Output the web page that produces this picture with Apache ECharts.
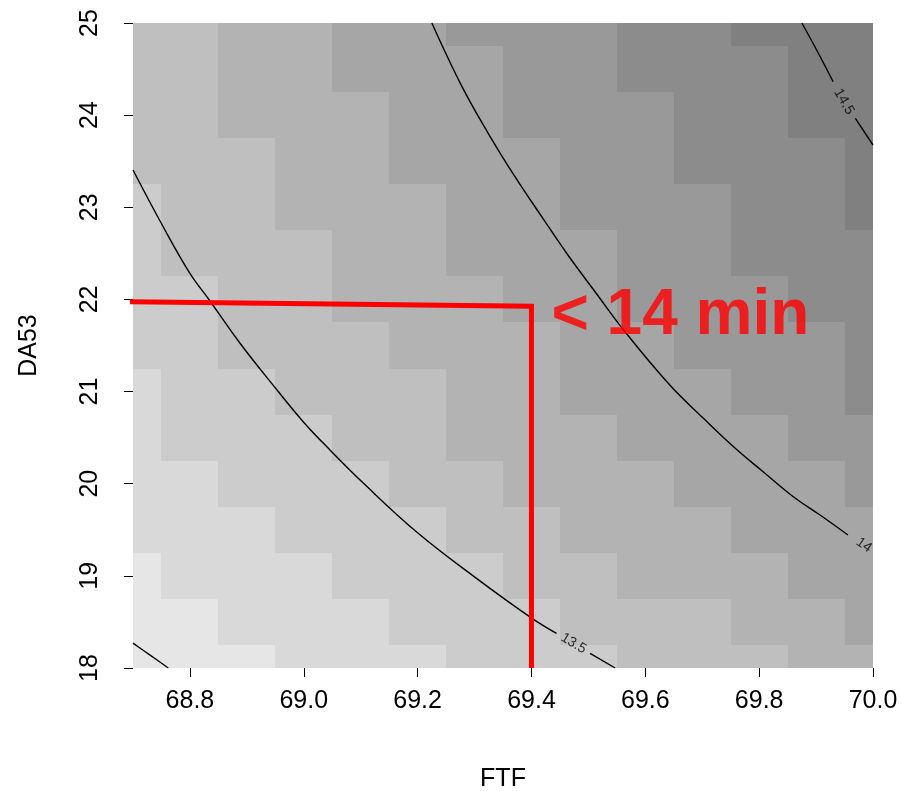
<!DOCTYPE html>
<html><head><meta charset="utf-8">
<script src="https://cdn.jsdelivr.net/npm/echarts@6/dist/echarts.min.js"></script>
<style>html,body{margin:0;padding:0;background:#fff}#c{width:902px;height:791px}</style>
</head><body><div id="c"></div>
<script>
// FTF values (x centres of the cells) and DA53 values (y centres, top row first)
const ftf = [68.7, 68.8, 68.9, 69.0, 69.1, 69.2, 69.3, 69.4, 69.5, 69.6, 69.7, 69.8, 69.9, 70.0];
const da53 = [25, 24.5, 24, 23.5, 23, 22.5, 22, 21.5, 21, 20.5, 20, 19.5, 19, 18.5, 18];
// shade level of each cell (0 = lightest), rows follow da53, columns follow ftf
const shadeRows = [
  [3,3,4,4,5,5,6,6,6,7,7,8,8,8],
  [3,3,4,4,5,5,5,6,6,7,7,7,8,8],
  [3,3,4,4,4,5,5,6,6,6,7,7,8,8],
  [3,3,3,4,4,5,5,5,6,6,7,7,7,8],
  [2,3,3,4,4,4,5,5,6,6,6,7,7,8],
  [2,3,3,3,4,4,5,5,5,6,6,7,7,7],
  [2,2,3,3,4,4,4,5,5,6,6,6,7,7],
  [2,2,3,3,3,4,4,4,5,5,6,6,6,7],
  [1,2,2,3,3,3,4,4,5,5,5,6,6,7],
  [1,2,2,2,3,3,4,4,4,5,5,5,6,6],
  [1,1,2,2,2,3,3,4,4,4,5,5,5,6],
  [1,1,1,2,2,2,3,3,4,4,4,5,5,5],
  [0,1,1,1,2,2,2,3,3,4,4,4,5,5],
  [0,0,1,1,1,2,2,2,3,3,3,4,4,5],
  [0,0,0,1,1,1,2,2,2,3,3,3,4,4]
];
const xTicks = [68.8, 69.0, 69.2, 69.4, 69.6, 69.8, 70.0];
const yTicks = [18, 19, 20, 21, 22, 23, 24, 25];

// contour lines (FTF, DA53)
const contour13 = [[68.700, 18.27], [68.730, 18.14], [68.762, 18.00]];
const contour135a = [[68.700, 23.405], [68.753, 22.789], [68.800, 22.283], [68.834, 21.994], [68.888, 21.524],
  [68.953, 21.017], [68.999, 20.673], [69.046, 20.366], [69.105, 20.004], [69.201, 19.462],
  [69.301, 18.984], [69.401, 18.539], [69.444, 18.376]];
const contour135b = [[69.503, 18.159], [69.547, 18.00]];
const contour14 = [[69.225, 25.0], [69.278, 24.309], [69.324, 23.803], [69.371, 23.332], [69.418, 22.898],
  [69.464, 22.482], [69.512, 22.081], [69.566, 21.636], [69.643, 21.071], [69.702, 20.710],
  [69.755, 20.401], [69.807, 20.130], [69.860, 19.859], [69.907, 19.660], [69.956, 19.443]];
const contour145a = [[69.875, 25.0], [69.901, 24.707], [69.930, 24.363]];
const contour145b = [[69.969, 23.966], [70.0, 23.676]];
const contourLabels = [
  {text: '13.5', at: [69.474, 18.266], angle: -31},
  {text: '14', at: [69.984, 19.335], angle: -35},
  {text: '14.5', at: [69.949, 24.146], angle: -60}
];
// red annotation
const markerPath = [[68.6912, 21.975], [69.4, 21.925], [69.4, 18.0]];
const markerText = '< 14 min';

const grays = ['#e6e6e6','#d9d9d9','#cccccc','#bfbfbf','#b3b3b3','#a6a6a6','#999999','#8c8c8c','#808080'];

const cells = [];
da53.forEach((y, r) => ftf.forEach((x, c) => cells.push([x, y, shadeRows[r][c]])));
const halfW = (ftf[1] - ftf[0]) / 2;
const halfH = (da53[0] - da53[1]) / 2;

const chart = echarts.init(document.getElementById('c'), null, {renderer: 'canvas'});
const font = 'Liberation Sans, Arial, Helvetica, sans-serif';
function contourSeries(data) {
  return {type: 'line', data: data, showSymbol: false, symbol: 'none', silent: true, z: 3, smooth: 0.4,
    lineStyle: {color: '#000', width: 1.4}};
}
chart.setOption({
  animation: false,
  backgroundColor: '#fff',
  grid: {left: 133, top: 23, width: 740, height: 645, outerBoundsMode: 'none', containLabel: false},
  xAxis: {
    type: 'value', min: 68.7, max: 70.0,
    name: 'FTF', nameLocation: 'middle', nameGap: 99,
    nameTextStyle: {fontFamily: font, fontSize: 25, color: '#000'},
    axisLine: {show: false},
    axisTick: {show: true, length: 9, customValues: xTicks, lineStyle: {color: '#000', width: 1}},
    axisLabel: {customValues: xTicks, margin: 21, fontFamily: font, fontSize: 25, color: '#000',
      formatter: v => v.toFixed(1)},
    splitLine: {show: false}
  },
  yAxis: {
    type: 'value', min: 18, max: 25, interval: 1,
    name: 'DA53', nameLocation: 'middle', nameGap: 91, nameRotate: 90,
    nameTextStyle: {fontFamily: font, fontSize: 25, color: '#000'},
    axisLine: {show: false},
    axisTick: {show: true, length: 9, customValues: yTicks, lineStyle: {color: '#000', width: 1}},
    axisLabel: {customValues: yTicks, rotate: 90, margin: 30, fontFamily: font, fontSize: 25, color: '#000'},
    splitLine: {show: false}
  },
  series: [
    {
      type: 'custom', data: cells, z: 1, silent: true,
      renderItem: function (params, api) {
        const x = api.value(0), y = api.value(1);
        const p1 = api.coord([x - halfW, y + halfH]);
        const p2 = api.coord([x + halfW, y - halfH]);
        const x1 = Math.round(p1[0]), y1 = Math.round(p1[1]);
        const x2 = Math.round(p2[0]), y2 = Math.round(p2[1]);
        const cs = params.coordSys;
        const rect = echarts.graphic.clipRectByRect(
          {x: x1, y: y1, width: x2 - x1, height: y2 - y1},
          {x: cs.x, y: cs.y, width: cs.width, height: cs.height});
        if (!rect) return;
        return {type: 'rect', shape: rect, style: {fill: grays[api.value(2)]}};
      }
    },
    contourSeries(contour13),
    contourSeries(contour135a),
    contourSeries(contour135b),
    contourSeries(contour14),
    contourSeries(contour145a),
    contourSeries(contour145b),
    {
      type: 'scatter', symbolSize: 0, z: 4, silent: true,
      data: contourLabels.map(l => ({value: l.at, label: {show: true, position: 'inside', formatter: l.text, rotate: l.angle}})),
      label: {show: true, color: '#000', fontFamily: font, fontSize: 14}
    },
    {
      type: 'line', data: markerPath, showSymbol: false, symbol: 'none', silent: true, z: 5, clip: false,
      lineStyle: {color: '#ff0000', width: 5, join: 'miter', cap: 'butt'}
    },
    {
      type: 'scatter', symbolSize: 0, z: 6, silent: true,
      data: [{value: markerPath[1], label: {show: true, position: 'right', distance: 0, offset: [20, 10], formatter: markerText}}],
      label: {color: '#ff0000', fontFamily: font, fontWeight: 'bold', fontSize: 64}
    }
  ]
});
</script>
</body></html>
